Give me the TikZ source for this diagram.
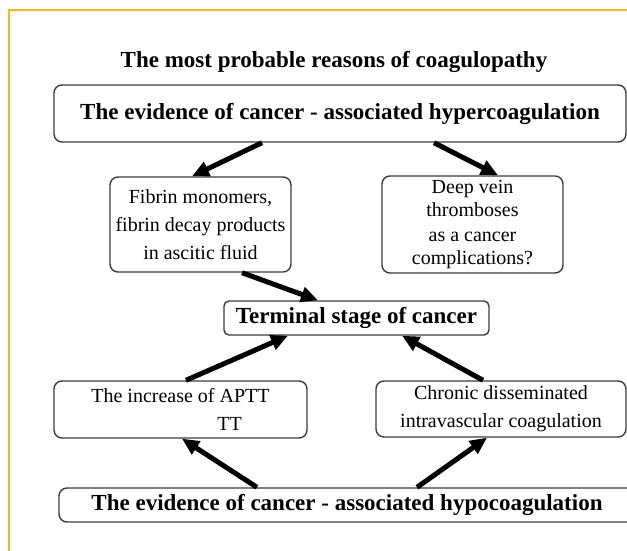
\documentclass[tikz,border=0pt]{standalone}
\usepackage{fontspec}
\setmainfont{Liberation Serif}
\usetikzlibrary{arrows.meta,calc}
\definecolor{frameor}{RGB}{247,182,28}
\definecolor{boxgray}{RGB}{60,60,60}
\begin{document}
\begin{tikzpicture}[x=1pt,y=-1pt,
  box/.style={draw=boxgray, line width=1.4pt, rounded corners=8pt, inner sep=0pt, align=center, fill=white},
  big/.style={font=\fontsize{23}{28}\selectfont\bfseries},
  small/.style={font=\fontsize{20}{28}\selectfont},
  smalltight/.style={font=\fontsize{20}{24}\selectfont},
  arr/.style={line width=5pt, -{Triangle[length=17pt,width=15pt]}}]
\useasboundingbox (0,0) rectangle (627,550);
\clip (0,0) rectangle (627,550);
\fill[white] (0,0) rectangle (627,550);
\draw[frameor, line width=2.5pt] (9,555) -- (9,10) -- (635,10);

\node[big, anchor=base, inner sep=0pt] (title) at (334,67) {The most probable reasons of coagulopathy};

\node[box, big, minimum width=572pt, minimum height=57pt] (top) at (340,113.5)
  {The evidence of cancer - associated hypercoagulation};
\node[box, small, minimum width=181pt, minimum height=95pt] (fib) at (200.5,224.5)
  {Fibrin monomers,\\fibrin decay products\\in ascitic fluid};
\node[box, smalltight, minimum width=181pt, minimum height=97pt] (dvt) at (472.5,224.5)
  {Deep vein\\thromboses\\as a cancer\\complications?};
\node[box, big, rounded corners=5pt, minimum width=265pt, minimum height=34pt] (term) at (356.5,318)
  {Terminal stage of cancer};
\node[box, small, minimum width=253pt, minimum height=57pt] (aptt) at (180.5,409.5)
  {The increase of APTT\\\hspace*{98pt}TT};
\node[box, small, minimum width=250pt, minimum height=56pt] (dic) at (501,409)
  {Chronic disseminated\\intravascular coagulation};
\node[box, big, minimum width=576pt, minimum height=34pt] (bot) at (347,505)
  {The evidence of cancer - associated hypocoagulation};

\draw[arr] ([xshift=-78pt]top.south) -- ([xshift=-8.5pt]fib.north);
\draw[arr] ([xshift=94pt]top.south) -- ([xshift=25.5pt]dvt.north);
\draw[arr] ([xshift=41.5pt]fib.south) -- ([xshift=-38.5pt]term.north);
\draw[arr] ([xshift=5.5pt]aptt.north) -- ([xshift=-68.5pt]term.south);
\draw[arr] ([xshift=-18pt]dic.north) -- ([xshift=45.5pt]term.south);
\draw[arr] ([xshift=-90pt]bot.north) -- ([xshift=1.5pt]aptt.south);
\draw[arr] ([xshift=70pt]bot.north) -- ([xshift=-14pt]dic.south);
\end{tikzpicture}
\end{document}
